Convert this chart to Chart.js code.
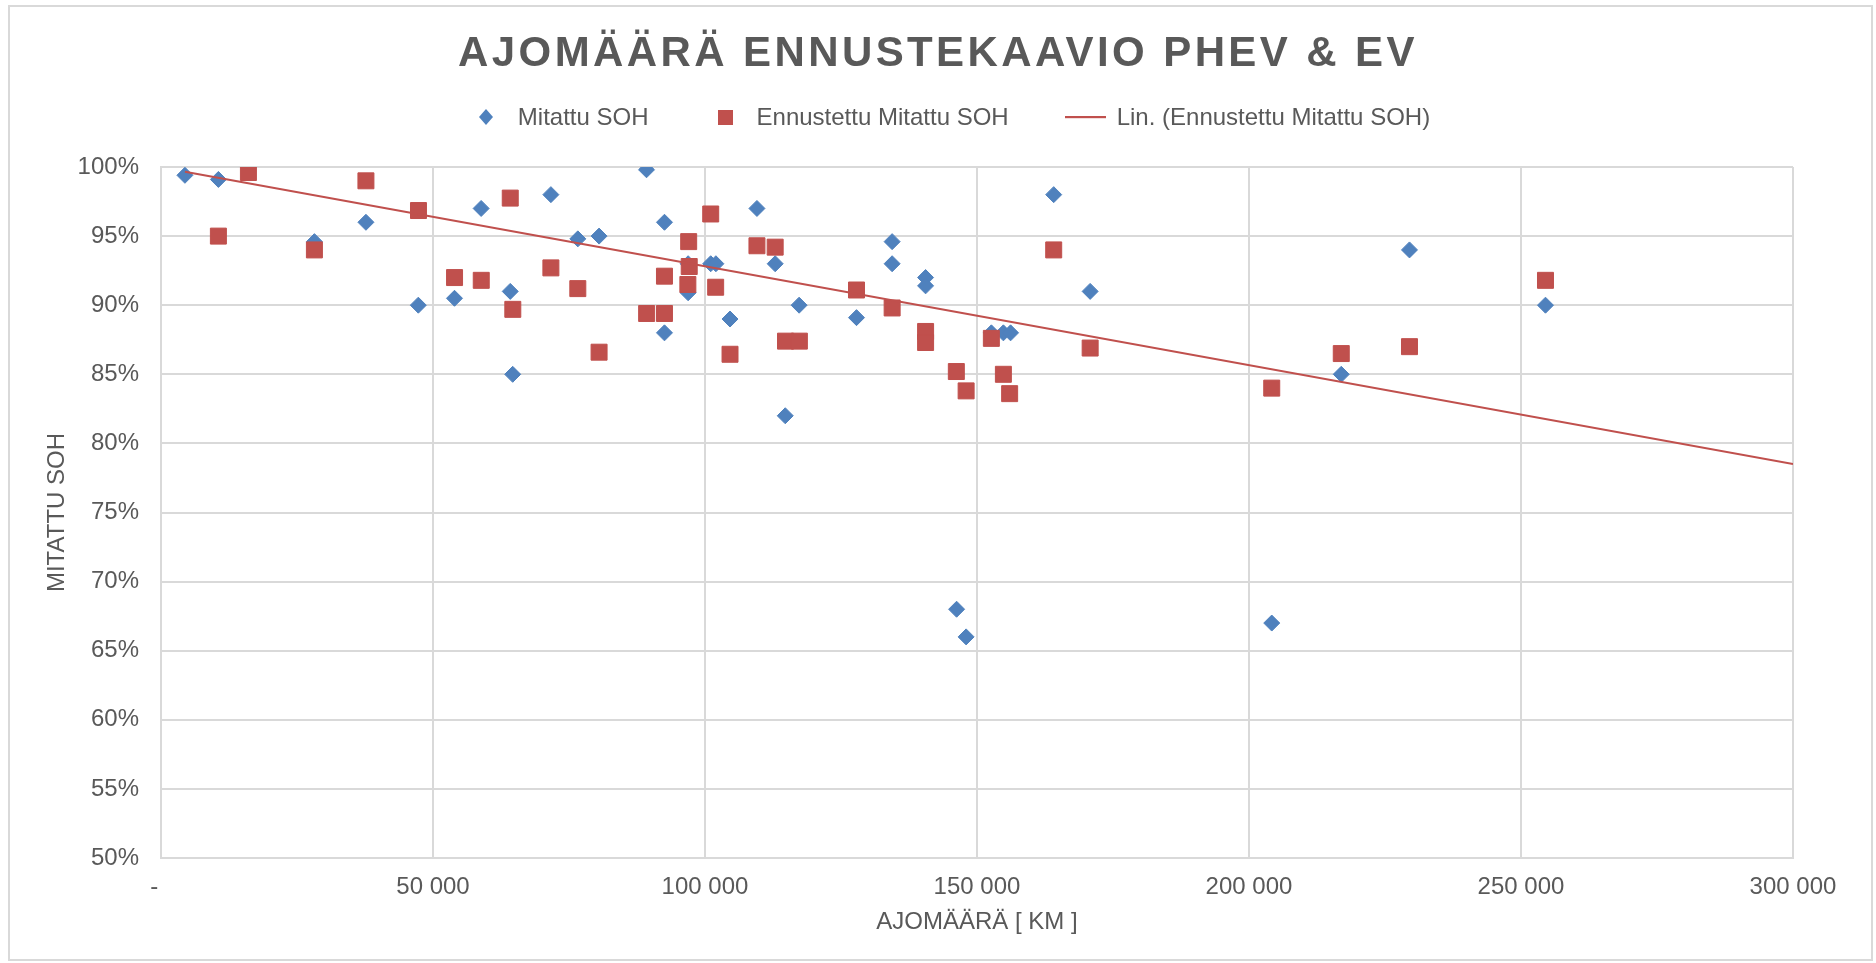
<!DOCTYPE html>
<html lang="fi">
<head>
  <meta charset="UTF-8">
  <title>Ajomäärä ennustekaavio PHEV &amp; EV</title>
  <style>
    html, body {
      margin: 0;
      padding: 0;
      background: #fff;
    }

    body {
      font-family: "Liberation Sans", Arial, sans-serif;
      color: #595959;
    }

    .chart-box {
      position: relative;
      width: 1876px;
      height: 963px;
      overflow: hidden;
    }

    .frame {
      position: absolute;
      left: 8px;
      top: 5px;
      width: 1865px;
      height: 956px;
      border: 2px solid #d9d9d9;
      box-sizing: border-box;
    }

    canvas {
      position: absolute;
      left: 0;
      top: 0;
    }

    .title {
      position: absolute;
      left: 0;
      top: 31px;
      width: 1876px;
      text-align: center;
      font-size: 42px;
      line-height: 42px;
      font-weight: bold;
      letter-spacing: 3.4px;
      margin: 0;
    }

    .legend {
      position: absolute;
      left: 0;
      top: 103px;
      width: 1896px;
      height: 28px;
      display: flex;
      justify-content: center;
      align-items: center;
      font-size: 24px;
    }

    .legend .item {
      display: flex;
      align-items: center;
      margin: 0 28px;
    }

    .legend .mark {
      width: 41px;
      height: 28px;
      display: flex;
      align-items: center;
      justify-content: center;
      margin-right: 11px;
    }
  </style>
  <script src="https://cdn.jsdelivr.net/npm/chart.js"></script>
</head>
<body>
  <div class="chart-box">
    <div class="frame"></div>
    <canvas id="chart" width="1876" height="963"></canvas>
    <h1 class="title">AJOMÄÄRÄ ENNUSTEKAAVIO PHEV &amp; EV</h1>
    <div class="legend" id="legend"></div>
  </div>

  <script>
    // sarjojen nimet
    const seriesNames = ['Mitattu SOH', 'Ennustettu Mitattu SOH', 'Lin. (Ennustettu Mitattu SOH)'];

    // Mitattu SOH (km, %)
    const measuredKm = [4400, 10550, 28200, 37670, 47300, 53950, 58850, 64200, 64650, 71670,
      76620, 80530, 89250, 92550, 92550, 96900, 96900, 101050, 102000, 104600,
      109550, 112900, 114750, 117300, 127850, 134400, 134400, 140550, 140550, 146250,
      148000, 152640, 154850, 156170, 164100, 170800, 204180, 216960, 229500, 254500];
    const measuredSoh = [99.4, 99.1, 94.6, 96.0, 90.0, 90.5, 97.0, 91.0, 85.0, 98.0,
      94.8, 95.0, 99.8, 96.0, 88.0, 93.0, 90.9, 93.0, 93.0, 89.0,
      97.0, 93.0, 82.0, 90.0, 89.1, 94.6, 93.0, 92.0, 91.4, 68.0,
      66.0, 88.0, 88.0, 88.0, 98.0, 91.0, 67.0, 85.0, 94.0, 90.0];

    // Ennustettu Mitattu SOH (km, %)
    const forecastKm = [10550, 16070, 28200, 37670, 47330, 53960, 58870, 64200, 64670, 71670,
      76620, 80530, 89270, 92550, 92550, 97000, 97100, 96850, 101050, 101960,
      104600, 109550, 112900, 114800, 117350, 127850, 134400, 140550, 140550, 146200,
      148000, 152640, 154850, 156000, 164100, 170800, 204180, 216960, 229500, 254500];
    const forecastSoh = [95.0, 99.6, 94.0, 99.0, 96.85, 92.0, 91.8, 97.75, 89.7, 92.7,
      91.2, 86.6, 89.4, 92.1, 89.4, 94.6, 92.8, 91.5, 96.6, 91.3,
      86.45, 94.3, 94.2, 87.4, 87.4, 91.1, 89.8, 88.1, 87.3, 85.2,
      83.8, 87.6, 85.0, 83.6, 94.0, 86.9, 84.0, 86.5, 87.0, 91.8];

    // trendiviivan päätepisteet luettuna kuvasta
    const trendKm = [4400, 300000];
    const trendSoh = [99.65, 78.5];

    const xTicks = [0, 50000, 100000, 150000, 200000, 250000, 300000];
    const yTicks = [50, 55, 60, 65, 70, 75, 80, 85, 90, 95, 100];

    const blue = '#4F81BD';
    const red = '#C0504D';
    const textColor = '#595959';
    const gridColor = '#d9d9d9';

    const toPoints = (xs, ys) => xs.map((x, i) => ({ x: x, y: ys[i] }));

    // "50 000" muotoilu, nolla näytetään viivana
    function formatKm(v) {
      if (v === 0) return '-  ';
      return String(v).replace(/\B(?=(\d{3})+(?!\d))/g, ' ');
    }

    // selite HTML:nä
    const markers = [
      '<svg width="14" height="16"><polygon points="7,0 14,8 7,16 0,8" fill="' + blue + '"/></svg>',
      '<svg width="15" height="15"><rect x="0" y="0" width="15" height="15" fill="' + red + '"/></svg>',
      '<svg width="52" height="3"><rect x="0" y="0" width="52" height="2.2" fill="' + red + '"/></svg>'
    ];
    const legendEl = document.getElementById('legend');
    seriesNames.forEach((name, i) => {
      const item = document.createElement('div');
      item.className = 'item';
      item.innerHTML = '<span class="mark">' + markers[i] + '</span><span>' + name + '</span>';
      legendEl.appendChild(item);
    });

    Chart.defaults.font.family = '"Liberation Sans", Arial, sans-serif';
    Chart.defaults.color = textColor;

    const ctx = document.getElementById('chart').getContext('2d');
    const chart = new Chart(ctx, {
      type: 'scatter',
      data: {
        datasets: [
          {
            label: seriesNames[2],
            data: toPoints(trendKm, trendSoh),
            showLine: true,
            borderColor: red,
            borderWidth: 2,
            pointRadius: 0,
            fill: false,
            order: 0
          },
          {
            label: seriesNames[1],
            data: toPoints(forecastKm, forecastSoh),
            pointStyle: 'rect',
            pointRadius: 11.3,
            backgroundColor: red,
            borderColor: red,
            borderWidth: 1,
            order: 1
          },
          {
            label: seriesNames[0],
            data: toPoints(measuredKm, measuredSoh),
            pointStyle: 'rectRot',
            pointRadius: 8,
            backgroundColor: blue,
            borderColor: blue,
            borderWidth: 1,
            order: 2
          }
        ]
      },
      options: {
        responsive: false,
        animation: false,
        devicePixelRatio: 1,
        layout: {
          padding: { top: 167, left: 10, right: 83, bottom: 10 }
        },
        plugins: {
          legend: { display: false },
          tooltip: { enabled: false }
        },
        scales: {
          x: {
            type: 'linear',
            min: 0,
            max: 300000,
            afterBuildTicks: (s) => { s.ticks = xTicks.map(v => ({ value: v })); },
            afterFit: (s) => { s.height = 95; },
            grid: { color: gridColor, lineWidth: 2, drawTicks: false },
            border: { color: gridColor, width: 2 },
            ticks: {
              padding: 15,
              color: textColor,
              font: { size: 24 },
              callback: (v) => formatKm(v)
            },
            title: {
              display: true,
              text: 'AJOMÄÄRÄ [ KM ]',
              color: textColor,
              font: { size: 24 },
              padding: { top: 0, bottom: 16 }
            }
          },
          y: {
            type: 'linear',
            min: 50,
            max: 100,
            afterBuildTicks: (s) => { s.ticks = yTicks.map(v => ({ value: v })); },
            afterFit: (s) => { s.width = 151; },
            grid: { color: gridColor, lineWidth: 2, drawTicks: false },
            border: { color: gridColor, width: 2 },
            ticks: {
              padding: 22,
              color: textColor,
              font: { size: 24 },
              callback: (v) => v + '%'
            },
            title: {
              display: true,
              text: 'MITATTU SOH',
              color: textColor,
              font: { size: 24 },
              padding: { top: 33, bottom: 0 }
            }
          }
        }
      }
    });
  </script>
</body>
</html>
